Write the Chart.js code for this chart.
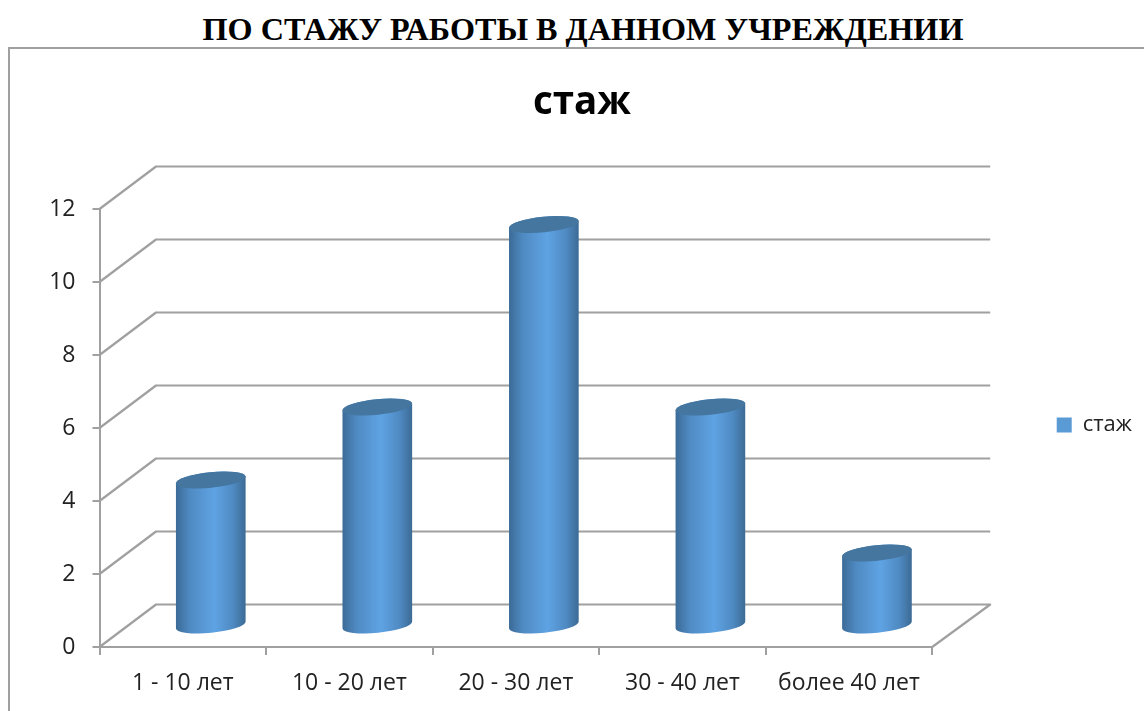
<!DOCTYPE html>
<html lang="ru"><head><meta charset="utf-8">
<script src="https://cdn.jsdelivr.net/npm/chart.js@4"></script>
<style>
html,body{margin:0;padding:0;width:1144px;height:711px;overflow:hidden;background:#fff}
#heading{position:absolute;left:0;top:10px;width:1166px;margin:0;text-align:center;font:bold 32.2px/38px "Liberation Serif",serif;color:#000;white-space:nowrap}
#frame{position:absolute;left:8px;top:47px;width:1136px;height:664px;box-sizing:border-box;border-left:2px solid #a0a0a0;border-top:2px solid #a0a0a0}
canvas{position:absolute;left:0;top:0}
</style></head><body>
<h1 id="heading">ПО СТАЖУ РАБОТЫ В ДАННОМ УЧРЕЖДЕНИИ</h1>
<div id="frame"></div>
<canvas id="c" width="1144" height="711"></canvas>
<script>
const categories = ["1 - 10 лет", "10 - 20 лет", "20 - 30 лет", "30 - 40 лет", "более 40 лет"];
const seriesName = "стаж";
const seriesValues = [4, 6, 11, 6, 2];
const axisMax = 12;
const axisStep = 2;
const chartTitle = "стаж";

const FONT = '"Open Sans"';
const LINE = '#a0a0a0';
const WALL = {dx: 56.5, dy: -42.5};
const BAR = {dx: 28, dy: -21, ry: 7.8, tilt: -0.1};

const cylinders = {
  id: 'cylinders',
  afterLayout(chart) { chart.legend.bottom -= 6; chart.legend.left -= 2; },
  beforeDatasetsDraw(chart) {
    const {ctx, chartArea: a, scales: {y}} = chart;
    ctx.save();
    ctx.strokeStyle = LINE; ctx.lineWidth = 2.2; ctx.lineJoin = 'round';
    y.ticks.forEach(t => {
      const py = y.getPixelForValue(t.value);
      ctx.beginPath();
      ctx.moveTo(a.left, py);
      ctx.lineTo(a.left + WALL.dx, py + WALL.dy);
      ctx.lineTo(a.right + WALL.dx + 1.5, py + WALL.dy);
      if (t.value === 0) ctx.lineTo(a.right, py);
      ctx.stroke();
    });
    ctx.restore();
  },
  beforeDatasetDraw(chart, args) {
    const {ctx} = chart;
    args.meta.data.forEach(el => {
      const cx = el.x + BAR.dx, top = el.y + BAR.dy, bot = el.base + BAR.dy, rx = el.width / 2;
      const g = ctx.createLinearGradient(cx - rx, 0, cx + rx, 0);
      g.addColorStop(0, '#3b6a96'); g.addColorStop(0.2, '#4f8ac2');
      g.addColorStop(0.55, '#5fa3e4'); g.addColorStop(0.82, '#4f8ac2'); g.addColorStop(1, '#3c6a94');
      ctx.save();
      ctx.fillStyle = g;
      ctx.beginPath();
      ctx.ellipse(cx, bot, rx, BAR.ry, BAR.tilt, 0, Math.PI);
      ctx.ellipse(cx, top, rx, BAR.ry, BAR.tilt, Math.PI, 2 * Math.PI);
      ctx.closePath(); ctx.fill();
      ctx.fillStyle = '#44769f';
      ctx.beginPath();
      ctx.ellipse(cx, top, rx, BAR.ry, BAR.tilt, 0, 2 * Math.PI);
      ctx.fill();
      ctx.restore();
    });
    return false;
  }
};

const hiddenAxis = {display: true, grid: {display: false}, border: {display: false}, ticks: {display: false}};

new Chart(document.getElementById('c'), {
  type: 'bar',
  data: {labels: categories, datasets: [{label: seriesName, data: seriesValues, backgroundColor: '#5b9bd5', barThickness: 70}]},
  plugins: [cylinders],
  options: {
    responsive: false, animation: false,
    layout: {padding: {left: 20, right: 0, top: 0, bottom: 0}},
    plugins: {
      tooltip: {enabled: false},
      title: {display: true, text: chartTitle, color: '#000', font: {family: FONT, size: 38.5, weight: 'bold'}, padding: {top: 80, bottom: 12.8}},
      legend: {position: 'right', fullSize: false, labels: {boxWidth: 15, boxHeight: 15, padding: 12, color: '#222', font: {family: FONT, size: 22}}}
    },
    scales: {
      x: {
        border: {color: LINE, width: 2},
        grid: {offset: true, drawOnChartArea: false, drawTicks: true, tickLength: 8, color: LINE, lineWidth: 2},
        ticks: {color: '#222', font: {family: FONT, size: 23}, padding: 15, maxRotation: 0, autoSkip: false},
        afterFit(s) { s.height = 64; }
      },
      y: {
        min: 0, max: axisMax,
        border: {color: LINE, width: 2},
        grid: {drawOnChartArea: false, drawTicks: true, tickLength: 7, color: LINE, lineWidth: 2},
        ticks: {stepSize: axisStep, color: '#222', font: {family: FONT, size: 23}, padding: 17},
        afterFit(s) { s.width = 79.5; }
      },
      topSpacer: {...hiddenAxis, type: 'category', position: 'top', labels: [''], afterFit(s) { s.height = 70; }},
      rightSpacer: {...hiddenAxis, type: 'linear', position: 'right', afterFit(s) { s.width = 114.5; }}
    }
  }
});
</script>
</body></html>
